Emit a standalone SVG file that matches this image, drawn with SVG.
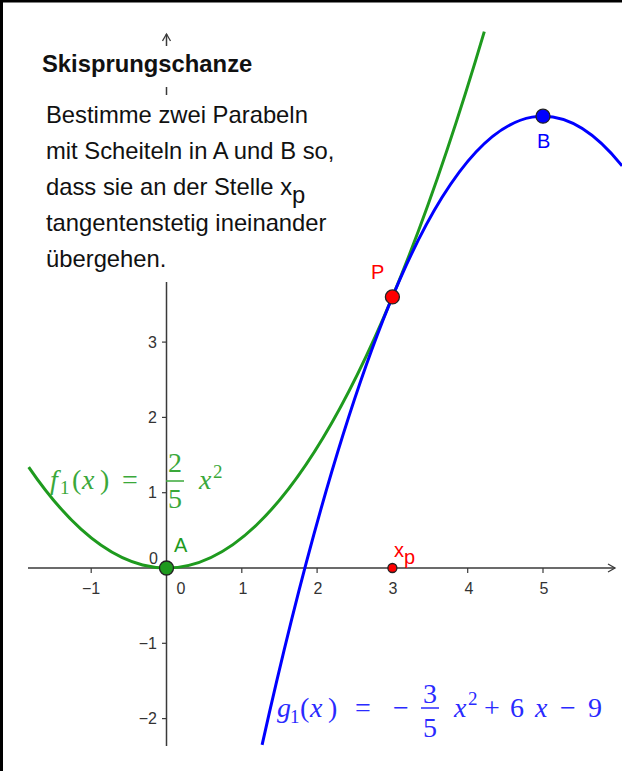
<svg xmlns="http://www.w3.org/2000/svg" width="622" height="771" viewBox="0 0 622 771">
<defs>
<style>
.axis{stroke:#3a3a3a;stroke-width:1.5;fill:none}
.tick{stroke:#3a3a3a;stroke-width:1.2}
.tl{font-family:"Liberation Sans",Arial,sans-serif;font-size:16px;fill:#333}
.txt{font-family:"Liberation Sans",Arial,sans-serif;font-size:23.8px;fill:#111}
.math{font-family:"Liberation Serif","Times New Roman",serif;font-size:28px}
.mi{font-style:italic}
.sub{font-size:19px}
.pt{stroke:#222;stroke-width:1.3}
.lbl{font-family:"Liberation Sans",Arial,sans-serif;font-size:20px}
</style>
<marker id="arr" markerWidth="10" markerHeight="10" refX="8" refY="5" orient="auto" markerUnits="userSpaceOnUse">
<path d="M1,1 L8,5 L1,9" fill="none" stroke="#3a3a3a" stroke-width="1.3"/>
</marker>
</defs>
<rect x="0" y="0" width="622" height="771" fill="#fff"/>
<g id="axes">
<line class="axis" x1="28" y1="568" x2="615" y2="568" marker-end="url(#arr)"/>
<line class="axis" x1="166.5" y1="746" x2="166.5" y2="34" marker-end="url(#arr)"/>
<g class="tick">
<line x1="91.2" y1="568" x2="91.2" y2="573"/>
<line x1="241.8" y1="568" x2="241.8" y2="573"/>
<line x1="317.1" y1="568" x2="317.1" y2="573"/>
<line x1="392.4" y1="568" x2="392.4" y2="573"/>
<line x1="467.7" y1="568" x2="467.7" y2="573"/>
<line x1="543" y1="568" x2="543" y2="573"/>
<line x1="162" y1="492.7" x2="166.5" y2="492.7"/>
<line x1="162" y1="417.4" x2="166.5" y2="417.4"/>
<line x1="162" y1="342.1" x2="166.5" y2="342.1"/>
<line x1="162" y1="643.3" x2="166.5" y2="643.3"/>
<line x1="162" y1="718.6" x2="166.5" y2="718.6"/>
</g>
<g class="tl" text-anchor="middle">
<text x="91" y="594">−1</text>
<text x="181" y="594">0</text>
<text x="243" y="594">1</text>
<text x="318" y="594">2</text>
<text x="393" y="594">3</text>
<text x="469" y="594">4</text>
<text x="544" y="594">5</text>
</g>
<g class="tl" text-anchor="end">
<text x="158" y="564">0</text>
<text x="157" y="498">1</text>
<text x="157" y="423">2</text>
<text x="157" y="348">3</text>
<text x="157" y="649">−1</text>
<text x="157" y="724">−2</text>
</g>
</g>
<g id="textboxes">
<rect x="38" y="46" width="225" height="41" fill="#fff"/>
<rect x="38" y="95" width="315" height="187" fill="#fff"/>
<text class="txt" x="42" y="72" font-weight="bold" font-size="23.5">Skisprungschanze</text>
<text class="txt" x="46" y="123">Bestimme zwei Parabeln</text>
<text class="txt" x="46" y="159">mit Scheiteln in A und B so,</text>
<text class="txt" x="46" y="195">dass sie an der Stelle x<tspan dy="8">p</tspan></text>
<text class="txt" x="46" y="231">tangentenstetig ineinander</text>
<text class="txt" x="46" y="267">übergehen.</text>
</g>
<g id="curves" fill="none" stroke-width="3">
<path id="f1" d="M28.7,467.1 Q256.5,800.6 484.3,31.6" stroke="#1e9a1e"/>
<path id="g1" d="M262.1,744.8 Q442.1,-60.7 622.1,165.9" stroke="#0000ff"/>
</g>
<g id="f1label" class="math" fill="#3aa83a">
<text class="mi" x="50" y="489">f</text>
<text class="sub" x="60" y="494">1</text>
<text x="72" y="489">(</text>
<text class="mi" x="82" y="489">x</text>
<text x="100" y="489">)</text>
<text x="122" y="489">=</text>
<text x="168" y="472">2</text>
<line x1="166" y1="481" x2="184" y2="481" stroke="#3aa83a" stroke-width="1.5"/>
<text x="168" y="508">5</text>
<text class="mi" x="199" y="489">x</text>
<text class="sub" x="213" y="478">2</text>
</g>
<g id="g1label" class="math" fill="#2a2aff">
<text class="mi" x="277" y="717">g</text>
<text class="sub" x="290" y="723">1</text>
<text x="300" y="717">(</text>
<text class="mi" x="310" y="717">x</text>
<text x="328" y="717">)</text>
<text x="355" y="717">=</text>
<text x="393" y="717">−</text>
<text x="423" y="703">3</text>
<line x1="421" y1="708" x2="439" y2="708" stroke="#2a2aff" stroke-width="1.5"/>
<text x="423" y="737">5</text>
<text class="mi" x="454" y="717">x</text>
<text class="sub" x="468" y="705">2</text>
<text x="484" y="717">+</text>
<text x="510" y="717">6</text>
<text class="mi" x="535" y="717">x</text>
<text x="560" y="717">−</text>
<text x="588" y="717">9</text>
</g>
<g id="pointA">
<circle class="pt" cx="166.5" cy="568" r="7" fill="#1e9a1e"/>
<text class="lbl" x="174" y="552" fill="#1e9a1e">A</text>
</g>
<g id="pointB">
<circle class="pt" cx="543" cy="116.2" r="7" fill="#0000ff"/>
<text class="lbl" x="537" y="148" fill="#0000ff">B</text>
</g>
<g id="pointP">
<circle class="pt" cx="392.4" cy="296.9" r="7" fill="#ff0000"/>
<text class="lbl" x="371" y="279" fill="#ff0000">P</text>
</g>
<g id="pointXp">
<circle class="pt" cx="392.4" cy="568" r="4.5" fill="#ff0000"/>
<text class="lbl" x="394" y="557" fill="#ff0000">x<tspan dy="7">p</tspan></text>
</g>
<path d="M1.5,0 V771 M0,1 H622" stroke="#000" stroke-width="3" fill="none"/>
</svg>
